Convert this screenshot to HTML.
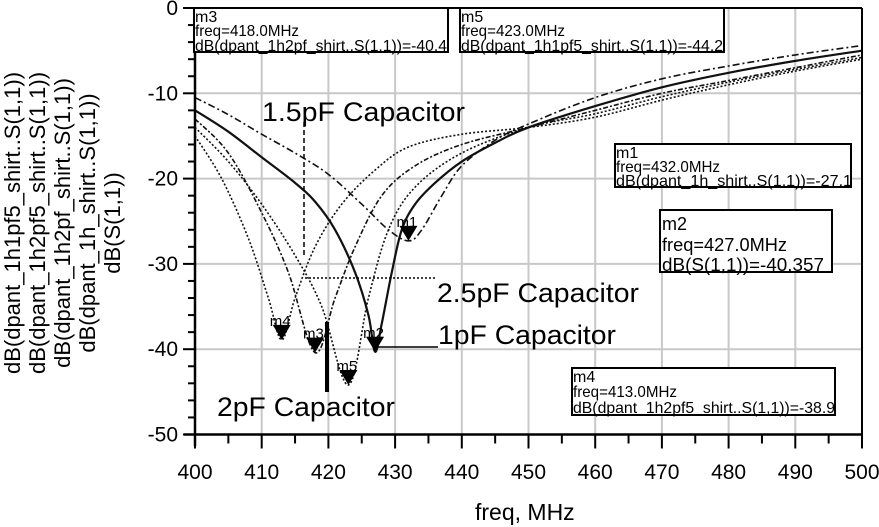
<!DOCTYPE html>
<html><head><meta charset="utf-8"><style>
html,body{margin:0;padding:0;background:#fff;width:879px;height:527px;overflow:hidden}
svg{display:block;font-family:"Liberation Sans",Arial,sans-serif}
</style></head><body>
<svg id="s" width="879" height="527" viewBox="0 0 879 527" xmlns="http://www.w3.org/2000/svg">
<g id="grid" stroke="#c8c8c8" stroke-width="2"></g>
<g id="curves" fill="none" stroke="#111"></g>
<g id="axes" stroke="#000" stroke-width="2.5"></g>
<g id="ticks" font-size="21" fill="#000"></g>
<g font-size="22" fill="#000" text-anchor="middle">
<text transform="translate(20,223) rotate(-90)">dB(dpant_1h1pf5_shirt..S(1,1))</text>
<text transform="translate(45,223) rotate(-90)">dB(dpant_1h2pf5_shirt..S(1,1))</text>
<text transform="translate(70,223) rotate(-90)">dB(dpant_1h2pf_shirt..S(1,1))</text>
<text transform="translate(95,223) rotate(-90)">dB(dpant_1h_shirt..S(1,1))</text>
<text transform="translate(120,223) rotate(-90)">dB(S(1,1))</text>
</g>
<text x="475" y="520" font-size="23">freq, MHz</text>
<g fill="#fff" stroke="#000" stroke-width="2">
<rect x="194" y="8" width="254" height="44"/>
<rect x="460" y="8" width="264" height="44"/>
<rect x="615" y="144" width="236" height="43"/>
<rect x="660" y="210" width="172" height="62"/>
<rect x="572" y="368" width="263" height="47"/>
</g>
<g font-size="16" fill="#000" lengthAdjust="spacingAndGlyphs">
<text x="195" y="22">m3</text><text x="195" y="36" textLength="104" lengthAdjust="spacingAndGlyphs">freq=418.0MHz</text><text x="195" y="51" textLength="252" lengthAdjust="spacingAndGlyphs">dB(dpant_1h2pf_shirt..S(1,1))=-40.4</text>
<text x="461" y="22">m5</text><text x="461" y="36" textLength="104" lengthAdjust="spacingAndGlyphs">freq=423.0MHz</text><text x="461" y="51" textLength="262" lengthAdjust="spacingAndGlyphs">dB(dpant_1h1pf5_shirt..S(1,1))=-44.2</text>
<text x="616" y="158">m1</text><text x="616" y="172" textLength="104" lengthAdjust="spacingAndGlyphs">freq=432.0MHz</text><text x="616" y="186" textLength="236" lengthAdjust="spacingAndGlyphs">dB(dpant_1h_shirt..S(1,1))=-27.1</text>
<text x="573" y="382">m4</text><text x="573" y="397" textLength="104" lengthAdjust="spacingAndGlyphs">freq=413.0MHz</text><text x="573" y="413" textLength="262" lengthAdjust="spacingAndGlyphs">dB(dpant_1h2pf5_shirt..S(1,1))=-38.9</text>
</g>
<g font-size="18" fill="#000">
<text x="662" y="230">m2</text><text x="662" y="251" textLength="125" lengthAdjust="spacingAndGlyphs">freq=427.0MHz</text><text x="662" y="271" textLength="162" lengthAdjust="spacingAndGlyphs">dB(S(1,1))=-40.357</text>
</g>
<g font-size="27" fill="#000">
<text x="262" y="121" textLength="203" lengthAdjust="spacingAndGlyphs">1.5pF Capacitor</text>
<text x="437" y="302" textLength="202" lengthAdjust="spacingAndGlyphs">2.5pF Capacitor</text>
<text x="438" y="344" textLength="178" lengthAdjust="spacingAndGlyphs">1pF Capacitor</text>
<text x="217" y="416" textLength="178" lengthAdjust="spacingAndGlyphs">2pF Capacitor</text>
</g>
<line x1="304" y1="122" x2="304" y2="255" stroke="#000" stroke-width="1.5" stroke-dasharray="5,3"/>
<line x1="305" y1="278" x2="437" y2="278" stroke="#000" stroke-width="1.5" stroke-dasharray="2,2"/>
<line x1="378" y1="347" x2="438" y2="347" stroke="#000" stroke-width="1.5"/>
<line x1="327" y1="322" x2="327" y2="392" stroke="#000" stroke-width="4"/>
<g id="marks" fill="#000" font-size="15"></g>
</svg>
<script>
var NS="http://www.w3.org/2000/svg";
function X(f){return 195+(f-400)*6.67;}
function Y(d){return 8-d*8.53;}
function el(p,t,a,txt){var e=document.createElementNS(NS,t);for(var k in a)e.setAttribute(k,a[k]);if(txt)e.textContent=txt;document.getElementById(p).appendChild(e);return e;}
for(var f=410;f<=490;f+=10)el("grid","line",{x1:X(f),y1:Y(0),x2:X(f),y2:Y(-50)});
for(var d=-10;d>=-40;d-=10)el("grid","line",{x1:X(400),y1:Y(d),x2:X(500),y2:Y(d)});
el("axes","line",{x1:195,y1:Y(0),x2:195,y2:446});
el("axes","line",{x1:184,y1:Y(-50),x2:862,y2:Y(-50)});
el("axes","line",{x1:195,y1:Y(0),x2:862,y2:Y(0),"stroke-width":2});
el("axes","line",{x1:862,y1:Y(0),x2:862,y2:Y(-50),"stroke-width":2});
for(var d=0;d>=-50;d-=2){var l=(d%10==0)?12:7;el("axes","line",{x1:195-l,y1:Y(d),x2:195,y2:Y(d),"stroke-width":2});}
for(var d=0;d>=-50;d-=10)el("ticks","text",{x:178,y:Y(d)+7,"text-anchor":"end"},String(d));
for(var f=400;f<=500;f+=5){var l=(f%10==0)?14:9;el("axes","line",{x1:X(f),y1:Y(-50),x2:X(f),y2:Y(-50)+l,"stroke-width":2});}
for(var f=400;f<=500;f+=10)el("ticks","text",{x:X(f),y:479,"text-anchor":"middle"},String(f));
var C=[
{st:{"stroke-width":2.2},p:[[400,-12],[405,-14.5],[410,-17.5],[415,-20.5],[418,-22.7],[421,-26],[424,-31],[426,-36],[427,-40.3],[428,-37],[429.5,-31],[431,-26],[433,-23],[436,-20.5],[440,-18],[445,-15.8],[450,-14],[460,-11.5],[470,-9.3],[480,-7.6],[490,-6.2],[500,-5]]},
{st:{"stroke-width":1.6,"stroke-dasharray":"7,3,2,3"},p:[[400,-10.5],[405,-12.5],[410,-14.8],[415,-17],[420,-19.5],[425,-23],[429,-26],[432,-27.3],[434,-26],[437,-22],[440,-18.5],[445,-15.5],[450,-13.6],[460,-10.5],[470,-8.3],[480,-6.8],[490,-5.5],[500,-4.4]]},
{st:{"stroke-width":1.6,"stroke-dasharray":"2,2"},p:[[400,-15],[404,-20],[408,-27],[411,-34],[413,-38.9],[415,-34],[418,-28],[422,-23],[427,-19],[432,-16.3],[440,-14.8],[450,-14],[460,-12.8],[470,-10.8],[480,-9],[490,-7.4],[500,-6]]},
{st:{"stroke-width":1.6,"stroke-dasharray":"5,2,2,2"},p:[[400,-13],[405,-17],[410,-24],[414,-31],[418,-40.4],[421,-34],[424,-28],[428,-22],[433,-18.5],[440,-16],[450,-14],[460,-12],[470,-10],[480,-8.5],[490,-7],[500,-5.5]]},
{st:{"stroke-width":1.6,"stroke-dasharray":"2,2"},p:[[400,-14],[405,-18],[410,-23],[415,-29],[419,-35],[423,-44.2],[426,-34],[429,-26],[433,-21],[440,-17],[450,-14],[460,-12.4],[470,-10.4],[480,-8.7],[490,-7.2],[500,-5.8]]}
];
C.forEach(function(c){
 var P=c.p.map(function(q){return [X(q[0]),Y(q[1])];});
 var d="M"+P[0][0]+","+P[0][1];
 for(var i=0;i<P.length-1;i++){var p0=P[Math.max(0,i-1)],p1=P[i],p2=P[i+1],p3=P[Math.min(P.length-1,i+2)];
  d+=" C"+(p1[0]+(p2[0]-p0[0])/6)+","+(p1[1]+(p2[1]-p0[1])/6)+" "+(p2[0]-(p3[0]-p1[0])/6)+","+(p2[1]-(p3[1]-p1[1])/6)+" "+p2[0]+","+p2[1];}
 var a={d:d};for(var k in c.st)a[k]=c.st[k];el("curves","path",a);
});
[["m1",432,-27.3],["m2",427,-40.3],["m3",418,-40.4],["m4",413,-38.9],["m5",423,-44.2]].forEach(function(m){
 var x=X(m[1]),y=Y(m[2]);
 el("marks","path",{d:"M"+(x-9)+","+(y-15)+" L"+(x+9)+","+(y-15)+" L"+x+","+y+"Z"});
 el("marks","text",{x:x-12,y:y-14},m[0]);
});
</script>
</body></html>
